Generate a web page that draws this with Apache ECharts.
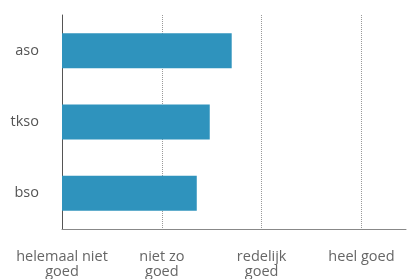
<!DOCTYPE html>
<html>
<head>
<meta charset="utf-8">
<script src="https://cdn.jsdelivr.net/npm/echarts@6/dist/echarts.min.js"></script>
<style>
  html, body { margin: 0; padding: 0; background: #fff; }
  #chart { width: 409px; height: 279px; }
</style>
</head>
<body>
<div id="chart"></div>
<script>
// categories (top to bottom)
const categories = ['aso', 'tkso', 'bso']
// mean score, 1 = helemaal niet goed ... 4 = heel goed
const scores = [2.70, 2.48, 2.35]
// tick labels at 1..4
const tickLabels = ['helemaal niet\ngoed', 'niet zo\ngoed', 'redelijk\ngoed', 'heel goed']

const chart = echarts.init(document.getElementById('chart'))

const option = {
  animation: false,
  grid: { left: 62, right: 0, top: 15, bottom: 48 },
  xAxis: {
    type: 'value',
    min: 1,
    max: 4.446,
    interval: 1,
    axisLine: { show: true, lineStyle: { color: '#888', width: 1 } },
    axisTick: { show: false },
    axisLabel: {
      color: '#666',
      fontFamily: 'Open Sans',
      fontSize: 14.5,
      lineHeight: 15,
      margin: 20,
      formatter: v => Number.isInteger(v) ? tickLabels[v - 1] : ''
    },
    splitLine: {
      show: true,
      lineStyle: {
        type: 'dotted',
        width: 1,
        color: ['rgba(0,0,0,0)', '#999', '#999', '#999', 'rgba(0,0,0,0)']
      }
    }
  },
  yAxis: {
    type: 'category',
    inverse: true,
    data: categories,
    axisLine: { show: true, lineStyle: { color: '#555', width: 1 } },
    axisTick: { show: false },
    axisLabel: {
      color: '#555',
      fontFamily: 'Open Sans',
      fontSize: 14.5,
      margin: 23
    }
  },
  series: [
    {
      type: 'bar',
      data: scores,
      barWidth: 35,
      itemStyle: { color: '#2f93bd' }
    }
  ]
}

chart.setOption(option)
</script>
</body>
</html>
